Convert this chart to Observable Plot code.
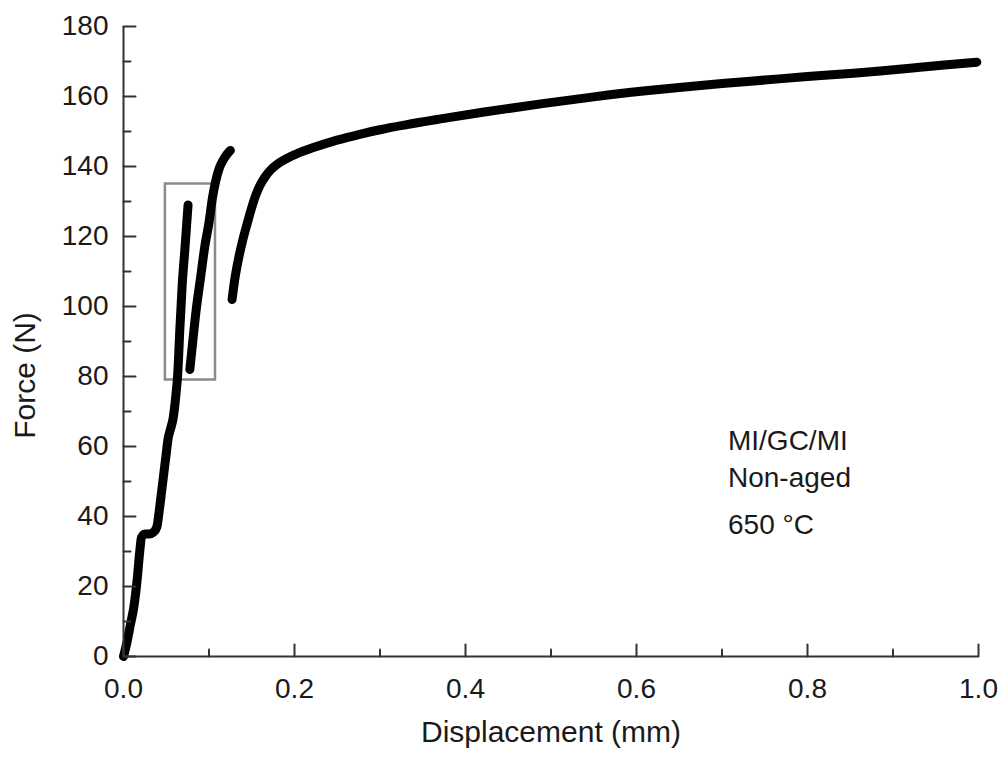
<!DOCTYPE html>
<html>
<head>
<meta charset="utf-8">
<script src="https://cdn.jsdelivr.net/npm/d3@7"></script>
<script src="https://cdn.jsdelivr.net/npm/@observablehq/plot@0.6"></script>
<style>
  html, body { margin: 0; padding: 0; background: #fff; }
  #chart svg { display: block; }
</style>
</head>
<body>
<div id="chart"></div>
<script>
// Data: [displacement (mm), force (N)]
const segment1 = [
  [0.000, 0], [0.004, 4], [0.008, 9], [0.012, 14], [0.016, 22], [0.019, 30],
  [0.021, 34], [0.025, 35], [0.030, 35], [0.035, 35.5], [0.039, 37], [0.042, 42],
  [0.045, 48], [0.048, 54], [0.050, 58], [0.052, 62], [0.055, 65], [0.058, 68],
  [0.061, 74], [0.0635, 81], [0.066, 94], [0.0686, 106], [0.072, 117], [0.0755, 129]
];
const segment2 = [
  [0.0776, 82], [0.081, 90], [0.085, 99], [0.090, 108], [0.095, 117], [0.100, 124],
  [0.104, 131], [0.108, 136], [0.112, 139.5], [0.117, 142], [0.121, 143.5], [0.125, 144.6]
];
const segment3 = [
  [0.127, 102], [0.130, 107.5], [0.134, 113], [0.139, 118.5], [0.145, 124], [0.150, 128.3],
  [0.155, 132], [0.160, 134.8], [0.166, 137.2], [0.172, 139], [0.180, 140.7], [0.191, 142.3],
  [0.205, 143.9], [0.223, 145.5], [0.245, 147.2], [0.262, 148.3], [0.280, 149.4], [0.300, 150.5],
  [0.330, 151.9], [0.371, 153.6], [0.420, 155.5], [0.488, 157.9], [0.550, 159.9], [0.605, 161.5],
  [0.650, 162.6], [0.700, 163.7], [0.750, 164.7], [0.800, 165.7], [0.850, 166.6], [0.885, 167.3],
  [0.920, 168.1], [0.960, 169.0], [0.998, 169.8]
];
// Highlight box [x1, x2, y1, y2]
const boxes = [{x1: 0.049, x2: 0.1076, y1: 79, y2: 135}];
// Annotation lines
const notes = [
  {text: "MI/GC/MI", x: 0.707, y: 59},
  {text: "Non-aged", x: 0.707, y: 48.5},
  {text: "650 °C", x: 0.707, y: 35}
];
// Ticks
const xMajor = [0, 0.2, 0.4, 0.6, 0.8, 1.0];
const xMinor = [0.1, 0.3, 0.5, 0.7, 0.9];
const yMajor = [0, 20, 40, 60, 80, 100, 120, 140, 160, 180];
const yMinor = [10, 30, 50, 70, 90, 110, 130, 150, 170];
const xLabel = "Displacement (mm)";
const yLabel = "Force (N)";

const segments = [segment1, segment2, segment3].map((pts, i) =>
  pts.map(([x, y]) => ({x, y, seg: i})));
const lineData = segments.flat();

const axisColor = "#333";
const textColor = "#1a1a1a";
const fsTick = 28;
const fsLabel = 30;
const tickShape = {draw(ctx, l) { ctx.moveTo(0, 0); ctx.lineTo(0, -l); }};

const chart = Plot.plot({
  width: 1008,
  height: 758,
  marginLeft: 123,
  marginRight: 30,
  marginTop: 26,
  marginBottom: 102,
  style: {fontFamily: "'Liberation Sans', Arial, sans-serif", background: "#fff"},
  x: {domain: [0, 1], axis: null},
  y: {domain: [0, 180], axis: null},
  marks: [
    Plot.rect(boxes, {x1: "x1", x2: "x2", y1: "y1", y2: "y2", fill: "none", stroke: "#8a8a8a", strokeWidth: 2.5}),
    Plot.line(lineData, {x: "x", y: "y", z: "seg", curve: "monotone-x", stroke: "#000", strokeWidth: 9, strokeLinecap: "round", strokeLinejoin: "round"}),
    // axis lines
    Plot.ruleX([0], {stroke: axisColor, strokeWidth: 2}),
    Plot.ruleY([0], {stroke: axisColor, strokeWidth: 2}),
    // inward ticks
    Plot.vector(yMajor, {x: 0, y: d => d, length: 12, rotate: 90, anchor: "start", shape: tickShape, stroke: axisColor, strokeWidth: 2}),
    Plot.vector(yMinor, {x: 0, y: d => d, length: 7, rotate: 90, anchor: "start", shape: tickShape, stroke: axisColor, strokeWidth: 2}),
    Plot.vector(xMajor, {x: d => d, y: 0, length: 12, rotate: 0, anchor: "start", shape: tickShape, stroke: axisColor, strokeWidth: 2}),
    Plot.vector(xMinor, {x: d => d, y: 0, length: 7, rotate: 0, anchor: "start", shape: tickShape, stroke: axisColor, strokeWidth: 2}),
    // tick labels
    Plot.text(yMajor, {x: 0, y: d => d, text: d => String(d), textAnchor: "end", dx: -15, fontSize: fsTick, fill: textColor}),
    Plot.text(xMajor, {x: d => d, y: 0, text: d => d3.format(".1f")(d), dy: 33, fontSize: fsTick, fill: textColor}),
    // axis labels
    Plot.text([xLabel], {frameAnchor: "bottom", textAnchor: "middle", text: d => d, dy: 85, fontSize: fsLabel, fill: textColor}),
    Plot.text([yLabel], {frameAnchor: "left", textAnchor: "middle", text: d => d, rotate: -90, dx: -98, dy: 34, fontSize: fsLabel, fill: textColor}),
    // annotation
    Plot.text(notes, {x: "x", y: "y", text: "text", textAnchor: "start", lineAnchor: "bottom", fontSize: fsTick, fill: textColor})
  ]
});
document.getElementById("chart").appendChild(chart);
</script>
</body>
</html>
